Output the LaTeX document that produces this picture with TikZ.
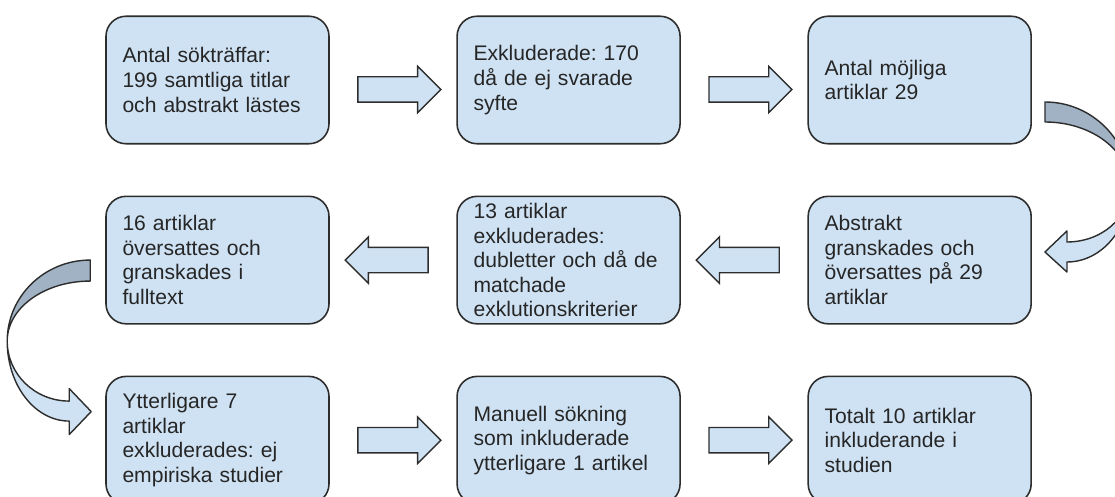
\documentclass[tikz,border=0pt]{standalone}
\usepackage{fontspec}
\setmainfont{Liberation Sans}
\frenchspacing
\usetikzlibrary{positioning,calc,shapes.arrows}
\definecolor{FlowBlue}{RGB}{207,226,243}
\definecolor{FlowEdge}{RGB}{45,45,45}
\definecolor{FlowShade}{RGB}{160,178,196}
\definecolor{FlowText}{RGB}{38,38,38}
\begin{document}
\begin{tikzpicture}[
node distance=1.02cm and 2.53cm,
box/.style={rectangle,rounded corners=0.4cm,draw=FlowEdge,line width=0.9pt,fill=FlowBlue,
minimum width=4.46cm,minimum height=2.55cm,text width=3.8cm,inner xsep=0.33cm,inner ysep=1pt,
align=left,text=FlowText,font=\fontsize{12}{14}\selectfont},
arrow/.style={single arrow,draw=FlowEdge,line width=0.8pt,fill=FlowBlue,minimum height=1.66cm,
single arrow head extend=0.21cm,inner xsep=0pt,inner ysep=0.24cm},
back/.style={arrow,shape border rotate=180},
ribbon/.style={draw=FlowEdge,line width=0.8pt,line join=round}
]
\useasboundingbox (0,0) rectangle (22.3,-9.94);
\clip (0,0) rectangle (22.3,-9.94);
\node[box] (a) at (4.35,-1.6) {Antal sökträffar:\\199 samtliga titlar\\och abstrakt lästes};
\node[box,right=of a] (b) {Exkluderade: 170\\då de ej svarade\\syfte};
\node[box,right=of b] (c) {Antal möjliga\\artiklar 29};
\node[box,below=of c] (d) {Abstrakt\\granskades och\\översattes på 29\\artiklar};
\node[box,left=of d] (e) {13 artiklar\\exkluderades:\\dubletter och då de\\matchade\\exklutionskriterier};
\node[box,left=of e] (f) {16 artiklar\\översattes och\\granskades i\\fulltext};
\node[box,below=of f] (g) {Ytterligare 7\\artiklar\\exkluderades: ej\\empiriska studier};
\node[box,right=of g] (h) {Manuell sökning\\som inkluderade\\ytterligare 1 artikel};
\node[box,right=of h] (i) {Totalt 10 artiklar\\inkluderande i\\studien};
\node[arrow,yshift=-0.19cm] (ab) at ($(a.east)!0.5!(b.west)$) {};
\node[arrow,yshift=-0.19cm] (bc) at ($(b.east)!0.5!(c.west)$) {};
\node[back] (de) at ($(d.west)!0.5!(e.east)$) {};
\node[back] (ef) at ($(e.west)!0.5!(f.east)$) {};
\node[arrow] (gh) at ($(g.east)!0.5!(h.west)$) {};
\node[arrow] (hi) at ($(h.east)!0.5!(i.west)$) {};
\coordinate (r) at ($(c.east)+(0.26,-0.44)$);
\coordinate (l) at ($(f.west)+(-0.3,0)$);
\filldraw[ribbon,fill=FlowBlue] ($(r)+(1.7,-1.7)$) arc[start angle=0,end angle=-90,x radius=1.26,y radius=1.5]
  -- ++(0,-0.2) -- ($(r)+(0,-3)$) -- ($(r)+(0.44,-2.58)$) -- ++(0,-0.22)
  arc[start angle=-90,end angle=0,x radius=1.26,y radius=1.1] -- cycle;
\filldraw[ribbon,fill=FlowShade] (r) arc[start angle=90,end angle=0,x radius=1.7,y radius=1.7]
  arc[start angle=0,end angle=90,x radius=1.7,y radius=1.3] -- cycle;
\filldraw[ribbon,fill=FlowBlue] ($(l)+(-1.66,-1.62)$) arc[start angle=180,end angle=270,x radius=1.24,y radius=1.6]
  -- ++(0,-0.27) -- ($(l)+(0.02,-3.03)$) -- ($(l)+(-0.42,-2.57)$) -- ++(0,-0.25)
  arc[start angle=270,end angle=180,x radius=1.24,y radius=1.2] -- cycle;
\filldraw[ribbon,fill=FlowShade] (l) arc[start angle=90,end angle=180,x radius=1.66,y radius=1.62]
  arc[start angle=180,end angle=90,x radius=1.66,y radius=1.2] -- cycle;
\end{tikzpicture}
\end{document}
